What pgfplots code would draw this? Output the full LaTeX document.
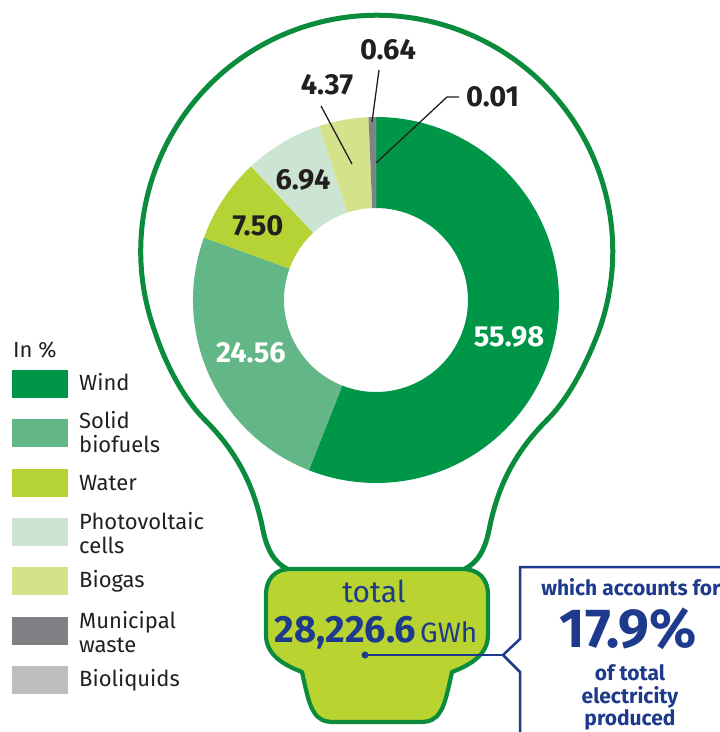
\documentclass[border=0pt]{standalone}
\usepackage{pgfplots}
\pgfplotsset{compat=1.18}
\usepackage{pgfplotstable}
\usepackage{fontspec}
\setmainfont{Fira Sans}
\definecolor{cWind}{HTML}{009648}
\definecolor{cSolid}{HTML}{63B787}
\definecolor{cWater}{HTML}{B5D334}
\definecolor{cPV}{HTML}{CCE5D2}
\definecolor{cBiogas}{HTML}{D4E28B}
\definecolor{cMuni}{HTML}{808184}
\definecolor{cBioliq}{HTML}{BCBEC0}
\definecolor{cOutline}{HTML}{0A8C3C}
\definecolor{cBase}{HTML}{B9D431}
\definecolor{cBlue}{HTML}{1E3A8C}
\definecolor{cText}{HTML}{231F20}

\pgfplotstableread{
name value
Wind 55.98
Solid 24.56
Water 7.50
PV 6.94
Biogas 4.37
Municipal 0.64
Bioliquids 0.01
}\piedata

\pgfplotstablegetelem{0}{value}\of\piedata\let\vA\pgfplotsretval
\pgfplotstablegetelem{1}{value}\of\piedata\let\vB\pgfplotsretval
\pgfplotstablegetelem{2}{value}\of\piedata\let\vC\pgfplotsretval
\pgfplotstablegetelem{3}{value}\of\piedata\let\vD\pgfplotsretval
\pgfplotstablegetelem{4}{value}\of\piedata\let\vE\pgfplotsretval
\pgfplotstablegetelem{5}{value}\of\piedata\let\vF\pgfplotsretval
\pgfplotstablegetelem{6}{value}\of\piedata\let\vG\pgfplotsretval
\pgfmathsetmacro\aA{90}
\pgfmathsetmacro\aB{\aA-3.6*\vA}
\pgfmathsetmacro\aC{\aB-3.6*\vB}
\pgfmathsetmacro\aD{\aC-3.6*\vC}
\pgfmathsetmacro\aE{\aD-3.6*\vD}
\pgfmathsetmacro\aF{\aE-3.6*\vE}
\pgfmathsetmacro\aG{\aF-3.6*\vF}
\pgfmathsetmacro\aH{\aG-3.6*\vG}

\newcommand\donutslice[3]{\fill[#1] (axis cs:376,300) ++(#2:183pt) arc[start angle=#2, end angle=#3, radius=183pt] -- ++(#3:-91pt) arc[start angle=#3, end angle=#2, radius=92pt] -- cycle;}

\begin{document}
\begin{tikzpicture}
\begin{axis}[
  width=720pt, height=732pt, scale only axis,
  xmin=0, xmax=720, ymin=0, ymax=732, y dir=reverse,
  hide axis, clip=false,
]
\coordinate (BBa) at (axis cs:0,732);
\coordinate (BBb) at (axis cs:720,0);
% bulb outline
\draw[cOutline, line width=5pt, line join=round]
  (axis cs:295,572) .. controls (axis cs:278,567) and (axis cs:268,555) .. (axis cs:263,530)
  .. controls (axis cs:255,490) and (axis cs:240,455) .. (axis cs:205,420)
  .. controls (axis cs:182,397) and (axis cs:165,362) .. (axis cs:155,332)
  arc[start angle=200, end angle=-20, radius=236pt]
  .. controls (axis cs:587,362) and (axis cs:570,397) .. (axis cs:547,420)
  .. controls (axis cs:512,455) and (axis cs:497,490) .. (axis cs:489,530)
  .. controls (axis cs:484,555) and (axis cs:474,567) .. (axis cs:457,572);
% base
\filldraw[fill=cBase, draw=cOutline, line width=4.2pt, line join=round]
  (axis cs:290,569) -- (axis cs:462,569) .. controls (axis cs:478,569) and (axis cs:488,578) .. (axis cs:488,595)
  -- (axis cs:488,635) .. controls (axis cs:488,655) and (axis cs:470,665) .. (axis cs:452,672)
  .. controls (axis cs:448,690) and (axis cs:445,705) .. (axis cs:440,712)
  .. controls (axis cs:436,719) and (axis cs:430,722) .. (axis cs:420,722)
  -- (axis cs:334,722) .. controls (axis cs:324,722) and (axis cs:318,719) .. (axis cs:314,712)
  .. controls (axis cs:309,705) and (axis cs:306,690) .. (axis cs:302,672)
  .. controls (axis cs:284,665) and (axis cs:266,655) .. (axis cs:266,635)
  -- (axis cs:266,595) .. controls (axis cs:266,578) and (axis cs:276,569) .. (axis cs:290,569) -- cycle;
% donut
\donutslice{cWind}{\aA}{\aB}
\donutslice{cSolid}{\aB}{\aC}
\donutslice{cWater}{\aC}{\aD}
\donutslice{cPV}{\aD}{\aE}
\donutslice{cBiogas}{\aE}{\aF}
\donutslice{cMuni}{\aF}{\aG}
\donutslice{cBioliq}{\aG}{\aH}
% leaders
\draw[cText, line width=1.3pt] (axis cs:372,122) -- (axis cs:379,70);
\draw[cText, line width=1.3pt] (axis cs:352,164) -- (axis cs:321,106);
\draw[cText, line width=1.3pt] (axis cs:376,163) -- (axis cs:447,97) -- (axis cs:459,97);
% slice labels
\begin{scope}[every node/.style={font=\fontsize{29}{29}\selectfont\bfseries}]
\node[cText] at (axis cs:388,50) {0.64};
\node[cText] at (axis cs:327,85) {4.37};
\node[cText, anchor=west, inner sep=0pt] at (axis cs:466,97) {0.01};
\node[cText] at (axis cs:303,180) {6.94};
\node[cText] at (axis cs:258,226) {7.50};
\node[white] at (axis cs:251,353) {24.56};
\node[white] at (axis cs:509,337) {55.98};
\end{scope}
% base text
\node[cBlue, font=\fontsize{30}{30}\selectfont, anchor=base] at (axis cs:374,602) {total};
\node[cBlue, anchor=base, inner sep=0pt] at (axis cs:376,642) {\fontsize{38}{38}\selectfont\bfseries 28,226.6\hspace{4pt}\fontsize{28}{28}\mdseries\selectfont GWh};
% blue bracket
\draw[cBlue, line width=2.5pt, line join=miter] (axis cs:720,567) -- (axis cs:520,567) -- (axis cs:520,639) -- (axis cs:503,655) -- (axis cs:520,672) -- (axis cs:520,732);
\draw[cBlue, line width=2pt] (axis cs:365,655) -- (axis cs:503,655);
\fill[cBlue] (axis cs:365,655) circle[radius=3.5pt];
\node[cBlue, font=\fontsize{21}{21}\selectfont\bfseries, anchor=base] at (axis cs:631,595) {which accounts for};
\node[cBlue, font=\fontsize{55}{55}\selectfont\bfseries, anchor=base] at (axis cs:628,647) {17.9\%};
\node[cBlue, font=\fontsize{21}{21}\selectfont\bfseries, anchor=base] at (axis cs:630,680) {of total};
\node[cBlue, font=\fontsize{21}{21}\selectfont\bfseries, anchor=base] at (axis cs:630,703) {electricity};
\node[cBlue, font=\fontsize{21}{21}\selectfont\bfseries, anchor=base] at (axis cs:630,725) {produced};
% legend
\node[cText, font=\fontsize{22}{24}\selectfont, anchor=west, inner sep=0pt] at (axis cs:13,350) {In \%};
\fill[cWind] (axis cs:12,370) rectangle (axis cs:68,398);
\fill[cSolid] (axis cs:12,419) rectangle (axis cs:68,447);
\fill[cWater] (axis cs:12,469) rectangle (axis cs:68,497);
\fill[cPV] (axis cs:12,518) rectangle (axis cs:68,546);
\fill[cBiogas] (axis cs:12,567) rectangle (axis cs:68,595);
\fill[cMuni] (axis cs:12,617) rectangle (axis cs:68,645);
\fill[cBioliq] (axis cs:12,666) rectangle (axis cs:68,694);
\begin{scope}[every node/.style={cText, font=\fontsize{22}{24}\selectfont, anchor=west, align=left, inner sep=0pt}]
\node at (axis cs:79,382) {Wind};
\node at (axis cs:79,432) {Solid\\biofuels};
\node at (axis cs:79,483) {Water};
\node at (axis cs:79,533) {Photovoltaic\\cells};
\node at (axis cs:79,581) {Biogas};
\node at (axis cs:79,632) {Municipal\\waste};
\node at (axis cs:79,680) {Bioliquids};
\end{scope}
\end{axis}
\pgfresetboundingbox
\path[use as bounding box] (BBa) rectangle (BBb);
\end{tikzpicture}
\end{document}
